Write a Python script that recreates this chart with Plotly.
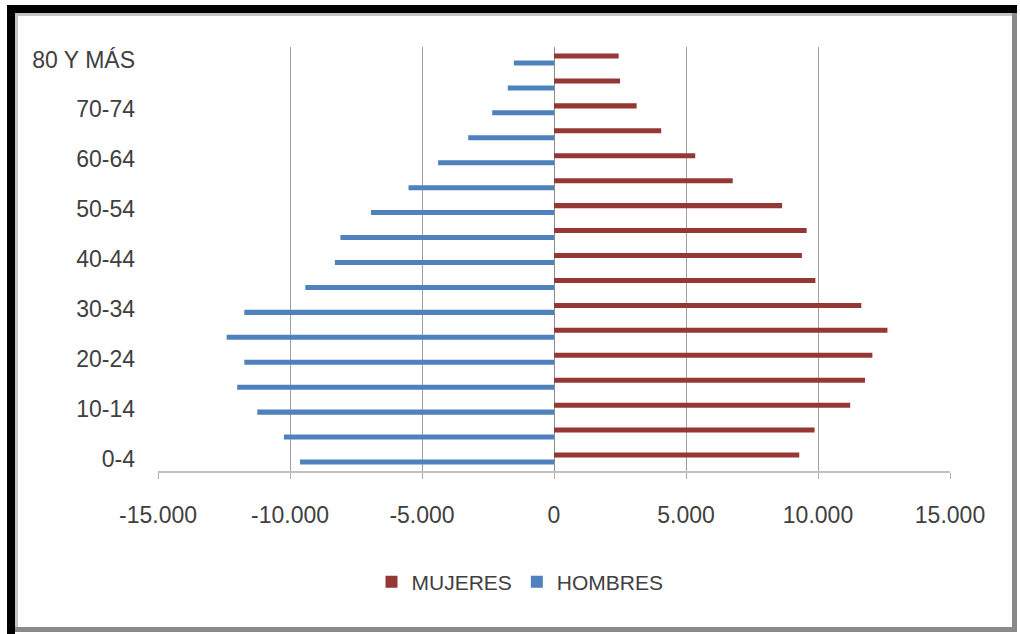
import plotly.graph_objects as go

# ---- data ----
age_groups = ['0-4', '5-9', '10-14', '15-19', '20-24', '25-29', '30-34', '35-39',
              '40-44', '45-49', '50-54', '55-59', '60-64', '65-69', '70-74', '75-79',
              '80 Y MÁS']
hombres = [-9620, -10230, -11240, -12000, -11730, -12400, -11730, -9420,
           -8300, -8090, -6930, -5510, -4390, -3250, -2340, -1750, -1520]
mujeres = [9290, 9870, 11220, 11780, 12060, 12630, 11640, 9900,
           9390, 9570, 8640, 6770, 5350, 4060, 3130, 2500, 2450]
x_tick_vals = [-15000, -10000, -5000, 0, 5000, 10000, 15000]
x_tick_text = ['-15.000', '-10.000', '-5.000', '0', '5.000', '10.000', '15.000']
y_tick_labels = ['0-4', '10-14', '20-24', '30-34', '40-44', '50-54', '60-64', '70-74', '80 Y MÁS']

W, H = 1020, 634
L, R, T, B = 158, 950, 47, 471  # plot area in px

FONT = "Liberation Sans, Arial, sans-serif"
TXT = '#404040'

fig = go.Figure()
fig.add_trace(go.Bar(y=age_groups, x=hombres, orientation='h', name='HOMBRES',
                     marker=dict(color='#4F81BD', line=dict(width=0))))
fig.add_trace(go.Bar(y=age_groups, x=mujeres, orientation='h', name='MUJERES',
                     marker=dict(color='#953735', line=dict(width=0))))


def px_x(p):
    return (p - L) / (R - L)


def px_y(p):
    return (B - p) / (B - T)


def rect(x0, y0, x1, y1, color):
    return dict(type='rect', xref='paper', yref='paper',
                x0=px_x(x0), x1=px_x(x1), y0=px_y(y1), y1=px_y(y0),
                fillcolor=color, line=dict(width=0), layer='above')


shapes = [
    rect(15, 13, 18, 627, '#c4c4c4'),
    rect(15, 13, 1012, 16, '#c4c4c4'),
    rect(1012, 10, 1017, 632, '#8a8a8a'),
    rect(15, 627, 1017, 632, '#8a8a8a'),
    rect(7, 5, 15, 634, '#000000'),
    rect(7, 5, 1017, 13, '#000000'),
]

fig.update_layout(
    width=W, height=H,
    margin=dict(l=L, r=W - R, t=T, b=H - B),
    paper_bgcolor='white', plot_bgcolor='white',
    barmode='group', bargap=0.44, bargroupgap=0.28,
    font=dict(family=FONT, size=23, color=TXT),
    showlegend=True,
    legend=dict(orientation='h', traceorder='reversed',
                x=px_x(520), xanchor='center', y=px_y(582), yanchor='middle',
                font=dict(size=21, color=TXT, family=FONT), itemwidth=30,
                bgcolor='rgba(0,0,0,0)'),
    shapes=shapes,
    xaxis=dict(range=[-15000, 15000], tickvals=x_tick_vals, ticktext=x_tick_text,
               showgrid=True, gridcolor='#a0a0a0', gridwidth=1,
               zeroline=True, zerolinecolor='#8c8c8c', zerolinewidth=1,
               showline=True, linecolor='#c0c0c0', linewidth=2,
               ticks='outside', ticklen=6, tickcolor='#b0b0b0',
               ticklabelstandoff=16,
               tickfont=dict(size=23, color=TXT, family=FONT)),
    yaxis=dict(type='category', categoryorder='array', categoryarray=age_groups,
               tickvals=y_tick_labels, ticktext=y_tick_labels,
               showgrid=False, showline=False, ticks='',
               ticklabelstandoff=22,
               tickfont=dict(size=23, color=TXT, family=FONT)),
)

fig.write_html("out.html")
